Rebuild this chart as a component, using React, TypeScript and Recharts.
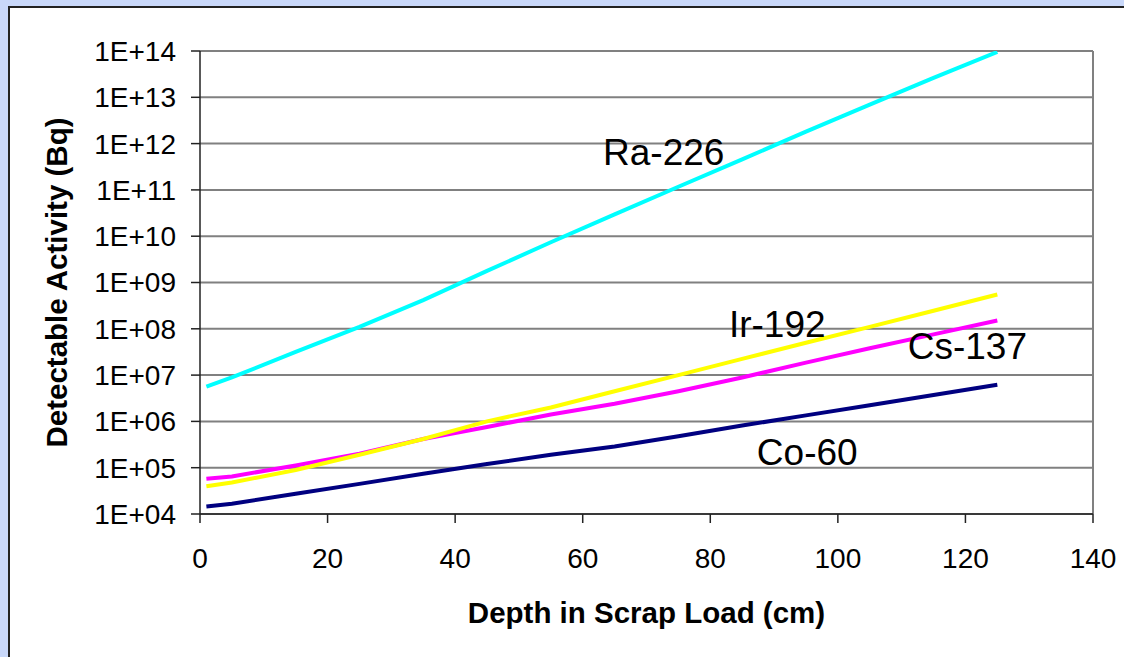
import { LineChart, Line, XAxis, YAxis, CartesianGrid, ReferenceLine, ReferenceDot } from 'recharts'

// depth in scrap load (cm)
const depths = [1, 5, 15, 25, 35, 45, 55, 65, 75, 85, 95, 105, 115, 125]

// detectable activity (Bq)
const ra226 = [5.62e6, 8.91e6, 3.16e7, 1.1e8, 4.17e8, 1.78e9, 7.41e9, 2.95e10, 1.17e11, 4.57e11, 1.82e12, 6.92e12, 2.63e13, 9.55e13]
const ir192 = [3.98e4, 4.79e4, 8.91e4, 1.91e5, 4.17e5, 1.0e6, 2.0e6, 4.47e6, 1.0e7, 2.24e7, 5.01e7, 1.1e8, 2.45e8, 5.5e8]
const cs137 = [5.75e4, 6.46e4, 1.12e5, 2.0e5, 4.17e5, 7.59e5, 1.41e6, 2.4e6, 4.47e6, 8.91e6, 1.86e7, 3.8e7, 7.59e7, 1.51e8]
const co60 = [1.45e4, 1.66e4, 2.75e4, 4.47e4, 7.41e4, 1.2e5, 1.91e5, 2.88e5, 4.79e5, 8.13e5, 1.35e6, 2.24e6, 3.72e6, 6.17e6]

const xTicks = [0, 20, 40, 60, 80, 100, 120, 140]
const yTicks = [1e4, 1e5, 1e6, 1e7, 1e8, 1e9, 1e10, 1e11, 1e12, 1e13, 1e14]

const data = depths.map((d, i) => ({ depth: d, ra: ra226[i], ir: ir192[i], cs: cs137[i], co: co60[i] }))

const FONT = 'Arial, "Liberation Sans", sans-serif'

const fmtExp = (v: number) => '1E+' + String(Math.round(Math.log10(v))).padStart(2, '0')

function YTitle(props: any) {
  const vb = props.viewBox || {}
  const cy = vb.y + vb.height / 2
  return (
    <text transform={`translate(67,${cy}) rotate(-90)`} textAnchor="middle" fontFamily={FONT} fontWeight="bold" fontSize={29.5} fill="#000">
      Detectable Activity (Bq)
    </text>
  )
}

function XTitle(props: any) {
  const vb = props.viewBox || {}
  const cx = vb.x + vb.width / 2
  return (
    <text x={cx} y={623} textAnchor="middle" fontFamily={FONT} fontWeight="bold" fontSize={29.5} fill="#000">
      Depth in Scrap Load (cm)
    </text>
  )
}

const seriesLabel = { fontSize: 37, fill: '#000', fontFamily: FONT }

export default function App() {
  return (
    <div style={{ position: 'absolute', left: 0, top: 0, width: 1124, height: 657, background: '#c9d8fa', overflow: 'hidden' }}>
      <div style={{ position: 'absolute', left: 8, top: 6, width: 1130, height: 660, background: '#fff', borderLeft: '2px solid #222', borderTop: '2px solid #222' }} />
      <div style={{ position: 'absolute', left: 0, top: 0 }}>
        <LineChart width={1124} height={657} data={data} margin={{ top: 51, right: 31, left: 0, bottom: 0 }}>
          <CartesianGrid vertical={false} stroke="#808080" strokeWidth={2} />
          <XAxis
            dataKey="depth"
            type="number"
            domain={[0, 140]}
            ticks={xTicks}
            height={143}
            tickSize={9}
            tickMargin={25}
            stroke="#222"
            strokeWidth={1.5}
            tick={{ fill: '#000', fontSize: 28, fontFamily: FONT }}
            label={<XTitle />}
          />
          <YAxis
            type="number"
            scale="log"
            domain={[1e4, 1e14]}
            ticks={yTicks}
            allowDataOverflow
            width={200}
            tickSize={9}
            tickMargin={15}
            stroke="#222"
            strokeWidth={1.5}
            tickFormatter={fmtExp}
            tick={{ fill: '#000', fontSize: 28, fontFamily: FONT }}
            label={<YTitle />}
          />
          <ReferenceLine x={140} stroke="#808080" strokeWidth={2} />
          <Line type="linear" dataKey="ra" stroke="#00ffff" strokeWidth={4} dot={false} isAnimationActive={false} />
          <Line type="linear" dataKey="cs" stroke="#ff00ff" strokeWidth={4} dot={false} isAnimationActive={false} />
          <Line type="linear" dataKey="ir" stroke="#ffff00" strokeWidth={4} dot={false} isAnimationActive={false} />
          <Line type="linear" dataKey="co" stroke="#000080" strokeWidth={4} dot={false} isAnimationActive={false} />
          <ReferenceDot x={72.7} y={6.5e11} r={0} label={{ value: 'Ra-226', position: 'center', ...seriesLabel }} />
          <ReferenceDot x={90.5} y={1.3e8} r={0} label={{ value: 'Ir-192', position: 'center', ...seriesLabel }} />
          <ReferenceDot x={120.3} y={4.3e7} r={0} label={{ value: 'Cs-137', position: 'center', ...seriesLabel }} />
          <ReferenceDot x={95.2} y={2.2e5} r={0} label={{ value: 'Co-60', position: 'center', ...seriesLabel }} />
        </LineChart>
      </div>
    </div>
  )
}
